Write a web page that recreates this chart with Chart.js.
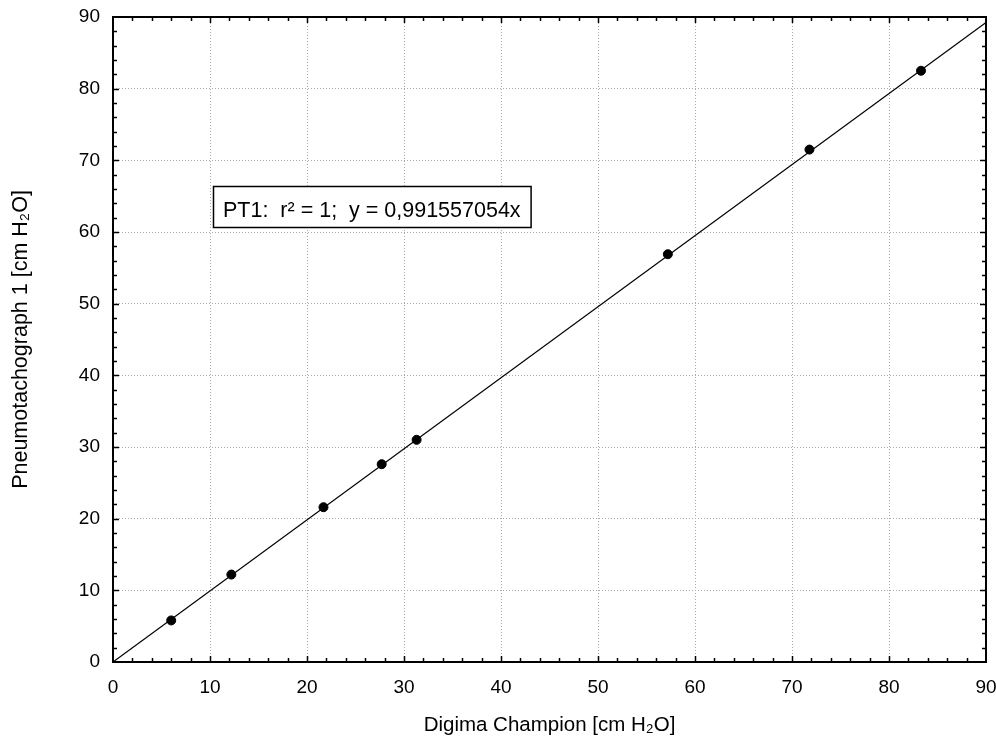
<!DOCTYPE html>
<html>
<head>
<meta charset="utf-8">
<script src="https://cdn.jsdelivr.net/npm/chart.js@4.4.1/dist/chart.umd.min.js"></script>
<style>
  html, body { margin: 0; padding: 0; background: #ffffff; }
  #wrap { width: 996px; height: 747px; position: relative; }
</style>
</head>
<body>
<div id="wrap"><canvas id="c" width="996" height="747"></canvas></div>
<script>
// ---- data ----
const xValues = [6.0, 12.2, 21.7, 27.7, 31.3, 57.2, 71.8, 83.3];
const yValues = [5.8, 12.2, 21.6, 27.6, 31.0, 56.9, 71.5, 82.5];
const slope = 0.991557054;
const fitX = [0, 90];
const xTicks = [0, 10, 20, 30, 40, 50, 60, 70, 80, 90];
const yTicks = [0, 10, 20, 30, 40, 50, 60, 70, 80, 90];
const xTitle = 'Digima Champion [cm H\u2082O]';
const yTitle = 'Pneumotachograph 1 [cm H\u2082O]';
const annotationText = 'PT1:  r\u00B2 = 1;  y = 0,991557054x';

const FONT = 'Liberation Sans, Arial, sans-serif';

const points = xValues.map((x, i) => ({ x: x, y: yValues[i] }));
const fitLine = fitX.map(x => ({ x: x, y: slope * x }));

const frameAndTicks = {
  id: 'frameAndTicks',
  afterDraw(chart) {
    const ctx = chart.ctx;
    const a = chart.chartArea;
    const xs = chart.scales.x, ys = chart.scales.y;
    ctx.save();
    // minor/major inward ticks
    ctx.strokeStyle = '#000';
    ctx.lineWidth = 1.5;
    ctx.beginPath();
    for (let v = 2; v < 90; v += 2) {
      const len = (v % 10 === 0) ? 6 : 4;
      const px = Math.round(xs.getPixelForValue(v)) + 0.5;
      ctx.moveTo(px, a.bottom); ctx.lineTo(px, a.bottom - len);
      ctx.moveTo(px, a.top); ctx.lineTo(px, a.top + len);
      const py = Math.round(ys.getPixelForValue(v)) + 0.5;
      ctx.moveTo(a.left, py); ctx.lineTo(a.left + len, py);
      ctx.moveTo(a.right, py); ctx.lineTo(a.right - len, py);
    }
    ctx.stroke();
    // frame
    ctx.lineWidth = 2;
    ctx.strokeRect(a.left, a.top, a.right - a.left, a.bottom - a.top);
    // annotation box
    ctx.font = '21.5px ' + FONT;
    ctx.textBaseline = 'alphabetic';
    ctx.textAlign = 'left';
    const tx = 223, ty = 217;
    const w = ctx.measureText(annotationText).width;
    const bx = 213, by = 186, bw = Math.max(317, w + 20), bh = 41;
    ctx.fillStyle = '#fff';
    ctx.fillRect(bx, by, bw, bh);
    ctx.lineWidth = 1.5;
    ctx.strokeStyle = '#000';
    ctx.strokeRect(bx + 0.5, by + 0.5, bw, bh);
    ctx.fillStyle = '#000';
    ctx.fillText(annotationText, tx, ty);
    ctx.restore();
  }
};

const gridColor = (ctx) => {
  const v = ctx.tick ? ctx.tick.value : null;
  if (v === 0 || v === 90) return 'rgba(0,0,0,0)';
  return '#a8a8a8';
};

const noPad = (s) => { s.paddingLeft = 0; s.paddingRight = 0; s.paddingTop = 0; s.paddingBottom = 0; };

new Chart(document.getElementById('c'), {
  type: 'scatter',
  data: {
    datasets: [
      {
        label: 'fit',
        data: fitLine,
        showLine: true,
        borderColor: '#000',
        borderWidth: 1.2,
        pointRadius: 0,
        fill: false
      },
      {
        label: 'PT1',
        data: points,
        showLine: false,
        pointRadius: 4.5,
        pointBackgroundColor: '#000',
        pointBorderColor: '#000',
        pointBorderWidth: 1
      }
    ]
  },
  options: {
    responsive: false,
    animation: false,
    devicePixelRatio: 1,
    layout: { padding: { left: 0, right: 10, top: 17, bottom: 0 } },
    plugins: {
      legend: { display: false },
      tooltip: { enabled: false },
      title: { display: false }
    },
    scales: {
      x: {
        type: 'linear',
        min: 0, max: 90,
        afterBuildTicks: (s) => { s.ticks = xTicks.map(v => ({ value: v })); },
        afterFit: (s) => { s.height = 85; noPad(s); },
        grid: { color: gridColor, lineWidth: 1, drawTicks: false },
        border: { display: false, dash: [1, 2] },
        ticks: { color: '#000', font: { family: FONT, size: 19 }, padding: 14, maxRotation: 0 },
        title: { display: true, text: xTitle, color: '#000', font: { family: FONT, size: 20.5 }, padding: { top: 9, bottom: 9 } }
      },
      y: {
        type: 'linear',
        min: 0, max: 90,
        afterBuildTicks: (s) => { s.ticks = yTicks.map(v => ({ value: v })); },
        afterFit: (s) => { s.width = 113; noPad(s); },
        grid: { color: gridColor, lineWidth: 1, drawTicks: false },
        border: { display: false, dash: [1, 2] },
        ticks: { color: '#000', font: { family: FONT, size: 19 }, padding: 13 },
        title: { display: true, text: yTitle, color: '#000', font: { family: FONT, size: 21.5 }, padding: { top: 8, bottom: 8 } }
      }
    }
  },
  plugins: [frameAndTicks]
});
</script>
</body>
</html>
